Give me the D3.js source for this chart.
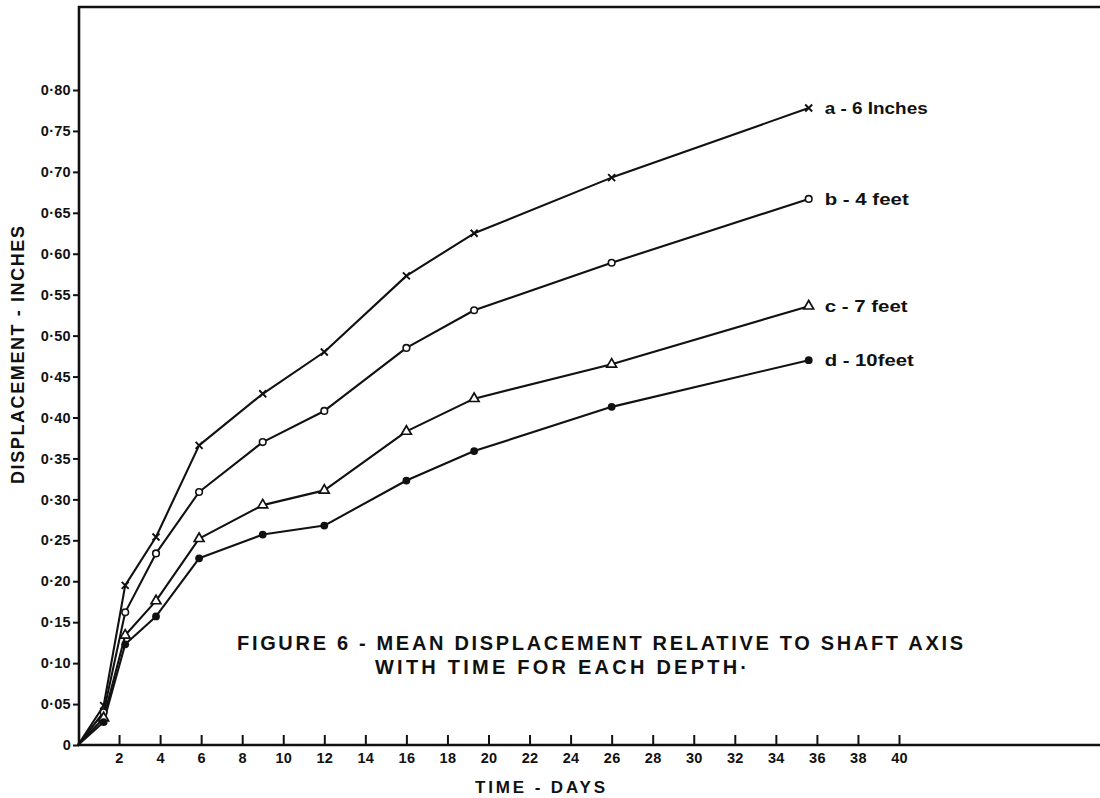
<!DOCTYPE html>
<html>
<head>
<meta charset="utf-8">
<script src="https://cdn.jsdelivr.net/npm/d3@7"></script>
<style>
  html, body { margin: 0; padding: 0; background: #fff; }
  svg { display: block; }
  text { font-family: "Liberation Sans", Arial, sans-serif; font-weight: bold; fill: #111; }
</style>
</head>
<body>
<svg id="chart" width="1100" height="798"></svg>
<script>
// ---- data ----
const days    = [0, 1.25, 2.3, 3.8, 5.9, 9, 12, 16, 19.3, 26, 35.6];
const seriesA = [0, 0.048, 0.195, 0.254, 0.366, 0.429, 0.480, 0.573, 0.625, 0.693, 0.778];
const seriesB = [0, 0.040, 0.162, 0.234, 0.309, 0.370, 0.408, 0.485, 0.531, 0.589, 0.667];
const seriesC = [0, 0.033, 0.134, 0.176, 0.252, 0.293, 0.311, 0.383, 0.423, 0.465, 0.536];
const seriesD = [0, 0.028, 0.123, 0.157, 0.228, 0.257, 0.268, 0.323, 0.359, 0.413, 0.470];
const seriesNames = ["a - 6 Inches", "b - 4 feet", "c - 7 feet", "d - 10feet"];
const markerTypes = ["cross", "circle", "triangle", "dot"];
const xTicks = [2,4,6,8,10,12,14,16,18,20,22,24,26,28,30,32,34,36,38,40];
const yTicks = [0,0.05,0.10,0.15,0.20,0.25,0.30,0.35,0.40,0.45,0.50,0.55,0.60,0.65,0.70,0.75,0.80];
const xTitle = "TIME - DAYS";
const yTitle = "DISPLACEMENT - INCHES";
const titleLine1 = "FIGURE 6 - MEAN DISPLACEMENT RELATIVE TO SHAFT AXIS";
const titleLine2 = "WITH TIME FOR EACH DEPTH·";

const allSeries = [seriesA, seriesB, seriesC, seriesD];

// ---- chart ----
const svg = d3.select("#chart");
const x = d3.scaleLinear().domain([0, 40]).range([78, 899]);
const y = d3.scaleLinear().domain([0, 0.8]).range([745, 90]);

// frame: left axis extended to top, top line, bottom line to the right edge
svg.append("line").attr("x1", 78).attr("x2", 1100).attr("y1", 7).attr("y2", 7)
  .attr("stroke", "#111").attr("stroke-width", 2.5);
svg.append("line").attr("x1", 79).attr("x2", 79).attr("y1", 6).attr("y2", 746)
  .attr("stroke", "#111").attr("stroke-width", 2.6);
svg.append("line").attr("x1", 78).attr("x2", 1100).attr("y1", 745).attr("y2", 745)
  .attr("stroke", "#111").attr("stroke-width", 2.3);

// y axis
const fmtY = v => v === 0 ? "0" : d3.format(".2f")(v).replace(".", "·");
const yAxis = svg.append("g").attr("transform", "translate(79,0)")
  .call(d3.axisLeft(y).tickValues(yTicks).tickFormat(fmtY).tickSize(6).tickPadding(2));
yAxis.select(".domain").remove();
yAxis.selectAll(".tick line").attr("stroke", "#111").attr("stroke-width", 2);
yAxis.selectAll(".tick text").attr("font-size", 14.5).attr("letter-spacing", 0.3)
  .style("font-family", "'Liberation Sans', Arial, sans-serif").style("font-weight", "bold").attr("fill", "#111");

// x axis
const xAxis = svg.append("g").attr("transform", "translate(0,745)")
  .call(d3.axisBottom(x).tickValues(xTicks).tickFormat(d => d).tickSize(-10).tickPadding(8));
xAxis.select(".domain").remove();
xAxis.selectAll(".tick line").attr("stroke", "#111").attr("stroke-width", 2);
xAxis.selectAll(".tick text").attr("font-size", 14.5).attr("letter-spacing", 0.3)
  .style("font-family", "'Liberation Sans', Arial, sans-serif").style("font-weight", "bold").attr("fill", "#111");

// axis titles
svg.append("text").attr("x", 540).attr("y", 793).attr("text-anchor", "middle")
  .attr("font-size", 17).attr("textLength", 130).attr("lengthAdjust", "spacing").text(xTitle);
svg.append("text").attr("transform", "translate(24,355) rotate(-90)").attr("text-anchor", "middle")
  .attr("font-size", 18).attr("textLength", 258).attr("lengthAdjust", "spacing").text(yTitle);

// lines
const line = d3.line().x((d, i) => x(days[i])).y(d => y(d));
allSeries.forEach(s => {
  svg.append("path").datum(s).attr("d", line).attr("fill", "none")
    .attr("stroke", "#111").attr("stroke-width", 2.1).attr("stroke-linejoin", "round");
});

// markers
allSeries.forEach((s, si) => {
  const type = markerTypes[si];
  const g = svg.append("g");
  s.forEach((v, i) => {
    if (i === 0) return;
    const cx = x(days[i]), cy = y(v);
    if (type === "cross") {
      g.append("path").attr("d", `M${cx-3.5},${cy-3.5}L${cx+3.5},${cy+3.5}M${cx-3.5},${cy+3.5}L${cx+3.5},${cy-3.5}`)
        .attr("stroke", "#111").attr("stroke-width", 1.9);
    } else if (type === "circle") {
      g.append("circle").attr("cx", cx).attr("cy", cy).attr("r", 3.3)
        .attr("fill", "#fff").attr("stroke", "#111").attr("stroke-width", 1.6);
    } else if (type === "triangle") {
      g.append("path").attr("d", d3.symbol(d3.symbolTriangle, 42)())
        .attr("transform", `translate(${cx},${cy})`)
        .attr("fill", "#fff").attr("stroke", "#111").attr("stroke-width", 1.7);
    } else {
      g.append("circle").attr("cx", cx).attr("cy", cy).attr("r", 3.9).attr("fill", "#111");
    }
  });
});

// series labels
const labelWidths = [103, 84, 83, 89];
allSeries.forEach((s, si) => {
  const last = s.length - 1;
  svg.append("text").attr("x", x(days[last]) + 16).attr("y", y(s[last]) + 6)
    .attr("font-size", 17).attr("textLength", labelWidths[si]).attr("lengthAdjust", "spacingAndGlyphs")
    .text(seriesNames[si]);
});

// figure caption
svg.append("text").attr("x", 237).attr("y", 650).attr("font-size", 20)
  .attr("textLength", 726).attr("lengthAdjust", "spacing").text(titleLine1);
svg.append("text").attr("x", 375).attr("y", 674).attr("font-size", 20)
  .attr("textLength", 372).attr("lengthAdjust", "spacing").text(titleLine2);
</script>
</body>
</html>
